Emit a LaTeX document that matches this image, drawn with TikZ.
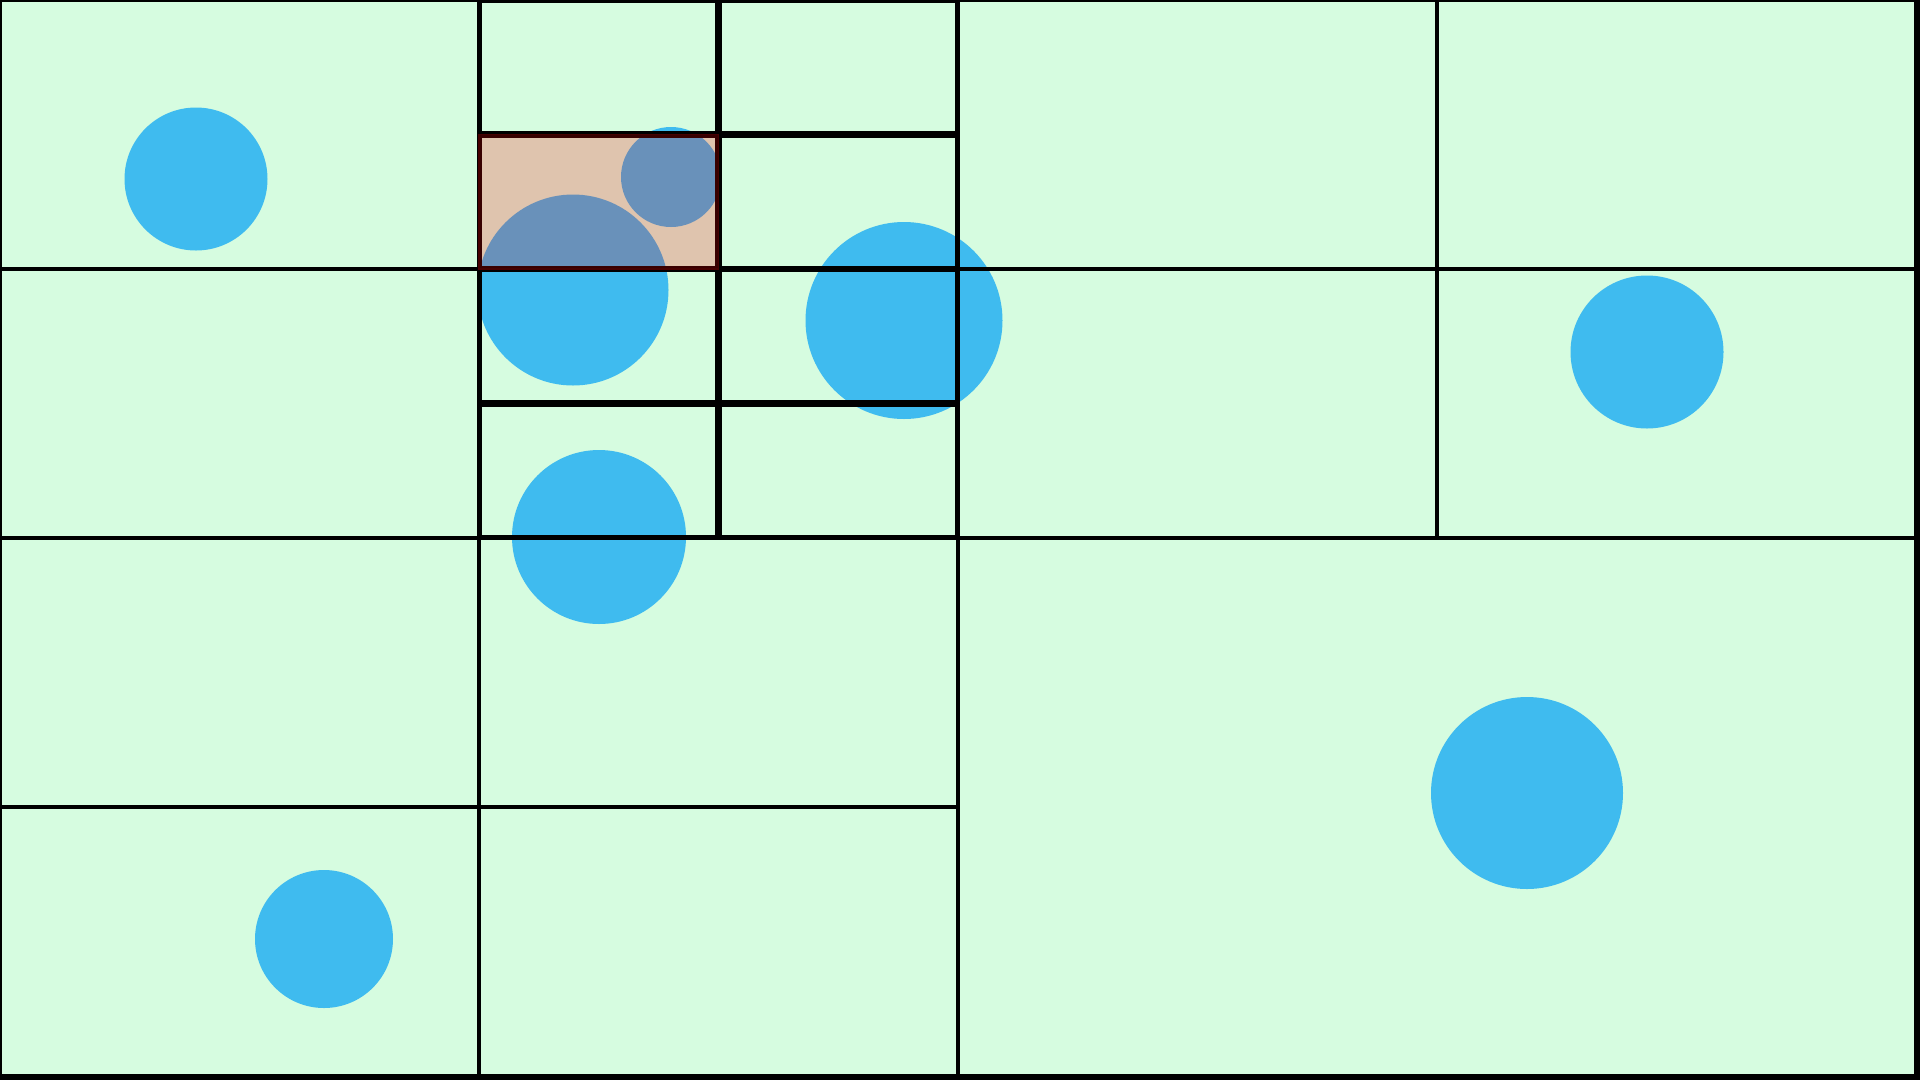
\documentclass[tikz,border=0pt]{standalone}
\definecolor{mint}{RGB}{214,252,224}
\definecolor{ballblue}{RGB}{63,187,239}
\definecolor{hlborder}{RGB}{70,0,0}
\tikzset{
  cell/.style={draw=black, line width=4pt},
  subcell/.style={draw=black, line width=3.5pt},
  ball/.style={fill=ballblue, draw=none},
  hlcell/.style={fill=red, fill opacity=0.22, draw=hlborder, draw opacity=1, line width=1.5pt}
}
\begin{document}
\begin{tikzpicture}[x=1pt,y=-1pt]
\useasboundingbox (0,0) rectangle (1920,1080);
\clip (0,0) rectangle (1920,1080);
\fill[mint] (0,0) rectangle (1920,1080);
% points
\fill[ball] (196,179) circle (71.5);
\fill[ball] (671,177) circle (50);
\fill[ball] (573,290) circle (95.5);
\fill[ball] (904,320.5) circle (98.5);
\fill[ball] (599,537) circle (87);
\fill[ball] (1647,352) circle (76.5);
\fill[ball] (1527,793) circle (96);
\fill[ball] (324,939) circle (69);
% root
\draw[cell] (0,0) rectangle (1918,1078);
% quadrants
\draw[cell] (0,0) rectangle (958,538);
\draw[cell] (958,0) rectangle (1916,538);
\draw[cell] (0,538) rectangle (958,1076);
\draw[cell] (958,538) rectangle (1916,1076);
% level 2
\draw[cell] (0,0) rectangle (479,269);
\draw[cell] (479,0) rectangle (958,269);
\draw[cell] (0,269) rectangle (479,538);
\draw[cell] (479,269) rectangle (958,538);
\draw[cell] (958,0) rectangle (1437,269);
\draw[cell] (1437,0) rectangle (1916,269);
\draw[cell] (958,269) rectangle (1437,538);
\draw[cell] (1437,269) rectangle (1916,538);
\draw[cell] (0,538) rectangle (479,807);
\draw[cell] (479,538) rectangle (958,807);
\draw[cell] (0,807) rectangle (479,1076);
\draw[cell] (479,807) rectangle (958,1076);
% level 3 (drawn slightly inset)
\draw[subcell] (480.5,1.5) rectangle (717,133);
\draw[subcell] (720,1.5) rectangle (956.5,133);
\draw[subcell] (480.5,136) rectangle (717,267.5);
\draw[subcell] (720,136) rectangle (956.5,267.5);
\draw[subcell] (480.5,270.5) rectangle (717,402);
\draw[subcell] (720,270.5) rectangle (956.5,402);
\draw[subcell] (480.5,405) rectangle (717,536.5);
\draw[subcell] (720,405) rectangle (956.5,536.5);
% highlighted query cell
\draw[hlcell] (479,134.5) rectangle (718.5,269);
\end{tikzpicture}
\end{document}
